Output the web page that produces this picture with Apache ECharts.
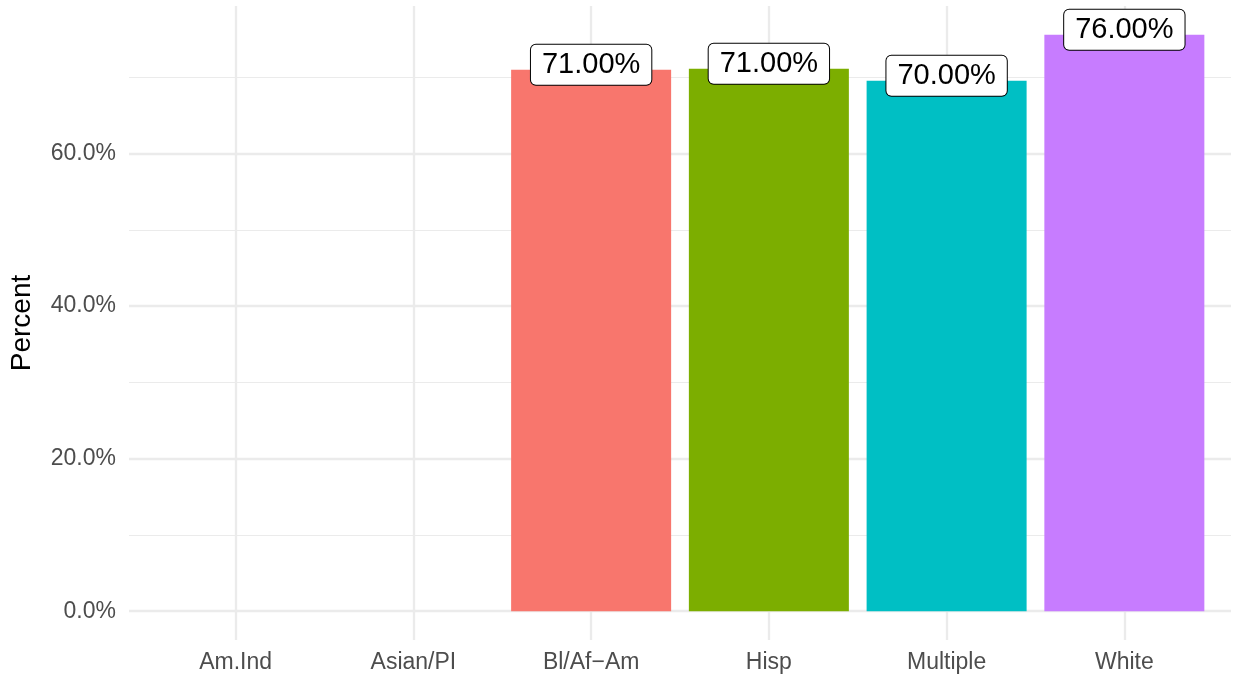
<!DOCTYPE html>
<html>
<head>
<meta charset="utf-8">
<script src="https://cdn.jsdelivr.net/npm/echarts@6/dist/echarts.min.js"></script>
<style>
html,body{margin:0;padding:0;background:#fff;}
#chart{width:1235px;height:678px;}
</style>
</head>
<body>
<div id="chart"></div>
<script>
// Data
const categories = ['Am.Ind', 'Asian/PI', 'Bl/Af\u2212Am', 'Hisp', 'Multiple', 'White'];
const values = [null, null, 0.710, 0.7113, 0.6955, 0.7558];
const colors = [null, null, '#F8766D', '#7CAE00', '#00BFC4', '#C77CFF'];
const yTicks = [0, 0.2, 0.4, 0.6];
const yMinorTicks = [0.1, 0.3, 0.5, 0.7];
const yAxisTitle = 'Percent';

// ggplot-like expansion
const vMax = Math.max(...values.filter(v => v != null));
const yMin = -0.05 * vMax;
const yMax = vMax * 1.05;
const xIdx = categories.map((c, i) => i);

const barData = [];
values.forEach((v, i) => {
  if (v != null) barData.push({ value: [i, v], itemStyle: { color: colors[i] } });
});

const gridColor = '#ebebeb';
const chart = echarts.init(document.getElementById('chart'), null, { renderer: 'canvas' });
chart.setOption({
  animation: false,
  backgroundColor: '#ffffff',
  textStyle: { fontFamily: 'Liberation Sans, Arial, sans-serif' },
  grid: { left: 129, right: 4, top: 6, bottom: 38, containLabel: false },
  xAxis: {
    type: 'value',
    min: -0.6,
    max: categories.length - 0.4,
    axisLine: { show: false },
    axisTick: { show: false },
    splitLine: { show: false },
    axisLabel: {
      customValues: xIdx,
      formatter: v => categories[Math.round(v)] || '',
      color: '#4d4d4d',
      fontSize: 23,
      margin: 11,
      fontFamily: 'Liberation Sans, Arial, sans-serif'
    }
  },
  yAxis: {
    type: 'value',
    min: yMin,
    max: yMax,
    name: yAxisTitle,
    nameLocation: 'middle',
    nameRotate: 90,
    nameGap: 93,
    nameTextStyle: { color: '#000', fontSize: 28, fontFamily: 'Liberation Sans, Arial, sans-serif' },
    axisLine: { show: false },
    axisTick: { show: false },
    splitLine: { show: false },
    axisLabel: {
      customValues: yTicks,
      formatter: v => (v * 100).toFixed(1) + '%',
      color: '#4d4d4d',
      fontSize: 23,
      margin: 13,
      fontFamily: 'Liberation Sans, Arial, sans-serif'
    }
  },
  series: [
    {
      type: 'scatter',
      data: [],
      z: 0,
      silent: true,
      markLine: {
        z: 0,
        silent: true,
        symbol: ['none', 'none'],
        label: { show: false },
        animation: false,
        data: [
          ...yMinorTicks.map(v => ({ yAxis: v, lineStyle: { color: gridColor, width: 1.2, type: 'solid' } })),
          ...yTicks.map(v => ({ yAxis: v, lineStyle: { color: gridColor, width: 2.3, type: 'solid' } })),
          ...xIdx.map(v => ({ xAxis: v, lineStyle: { color: gridColor, width: 2.3, type: 'solid' } }))
        ]
      }
    },
    {
      type: 'bar',
      z: 3,
      barWidth: 160,
      data: barData,
      label: {
        show: true,
        position: 'top',
        distance: -15,
        formatter: p => Math.round(p.value[1] * 100).toFixed(2) + '%',
        color: '#000',
        fontSize: 29,
        lineHeight: 28,
        fontFamily: 'Liberation Sans, Arial, sans-serif',
        backgroundColor: '#fff',
        borderColor: '#000',
        borderWidth: 1,
        borderRadius: 5,
        padding: [6, 11, 6, 11]
      }
    }
  ]
});
</script>
</body>
</html>
